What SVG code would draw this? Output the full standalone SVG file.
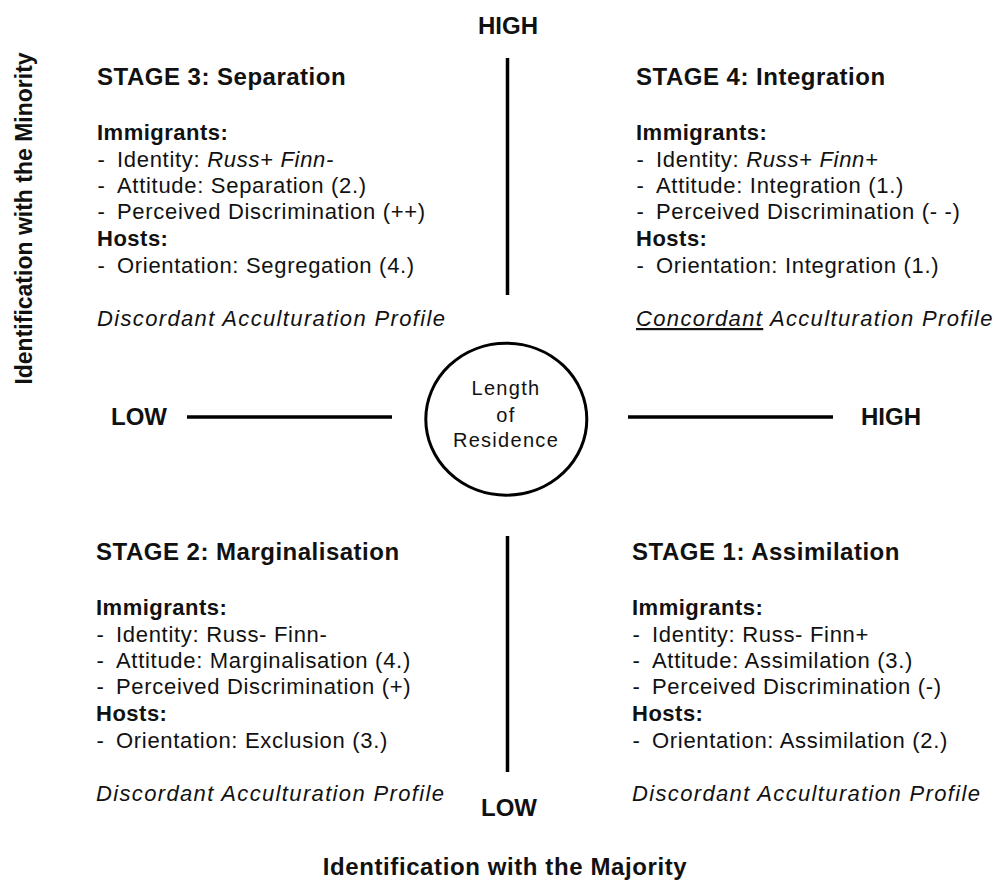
<svg xmlns="http://www.w3.org/2000/svg" width="994" height="882" viewBox="0 0 994 882">
<style>
text{font-family:"Liberation Sans",Arial,sans-serif;fill:#111}
.title{font-size:24px;font-weight:bold;letter-spacing:0.5px}
.head{font-size:22px;font-weight:bold;letter-spacing:0.5px}
.body{font-size:22px;letter-spacing:0.7px}
.it{font-style:italic}
.prof{font-size:22px;font-style:italic;letter-spacing:1.35px}
.axis{font-size:24px;font-weight:bold}
.circ{font-size:20px;letter-spacing:1.3px}
.ln{stroke:#000;stroke-width:3.5;fill:none}
</style>
<rect width="994" height="882" fill="#fff"/>
<g id="connectors">
<line class="ln" x1="187" y1="417" x2="392" y2="417"/>
<line class="ln" x1="628" y1="417" x2="833" y2="417"/>
<line class="ln" x1="507.5" y1="58" x2="507.5" y2="295"/>
<line class="ln" x1="507.5" y1="536" x2="507.5" y2="772"/>
</g>
<g id="axis-labels">
<text class="axis" x="508" y="34" text-anchor="middle">HIGH</text>
<text class="axis" x="111" y="425">LOW</text>
<text class="axis" x="861" y="425">HIGH</text>
<text class="axis" x="509" y="816" text-anchor="middle">LOW</text>
<text class="axis" x="505" y="875" text-anchor="middle" style="letter-spacing:0.6px">Identification with the Majority</text>
<text class="axis" transform="translate(32,218.5) rotate(-90)" text-anchor="middle" style="font-size:23px">Identification with the Minority</text>
</g>
<g id="center">
<ellipse cx="506.3" cy="419.2" rx="80.5" ry="76" fill="#fff" stroke="#000" stroke-width="3"/>
<text class="circ" x="506" y="395" text-anchor="middle">Length</text>
<text class="circ" x="506" y="422" text-anchor="middle">of</text>
<text class="circ" x="506" y="447" text-anchor="middle">Residence</text>
</g>
<g id="stage3">
<text class="title" x="97" y="85">STAGE 3: Separation</text>
<text class="head" x="97" y="140">Immigrants:</text>
<text class="body" x="97.5" y="167">-</text><text class="body" x="117" y="167">Identity: <tspan class="it">Russ+ Finn-</tspan></text>
<text class="body" x="97.5" y="193">-</text><text class="body" x="117" y="193">Attitude: Separation (2.)</text>
<text class="body" x="97.5" y="219">-</text><text class="body" x="117" y="219">Perceived Discrimination (++)</text>
<text class="head" x="97" y="246">Hosts:</text>
<text class="body" x="97.5" y="273">-</text><text class="body" x="117" y="273">Orientation: Segregation (4.)</text>
<text class="prof" x="97" y="326">Discordant Acculturation Profile</text>
</g>
<g id="stage4">
<text class="title" x="636" y="85">STAGE 4: Integration</text>
<text class="head" x="636" y="140">Immigrants:</text>
<text class="body" x="636.5" y="167">-</text><text class="body" x="656" y="167">Identity: <tspan class="it">Russ+ Finn+</tspan></text>
<text class="body" x="636.5" y="193">-</text><text class="body" x="656" y="193">Attitude: Integration (1.)</text>
<text class="body" x="636.5" y="219">-</text><text class="body" x="656" y="219">Perceived Discrimination (- -)</text>
<text class="head" x="636" y="246">Hosts:</text>
<text class="body" x="636.5" y="273">-</text><text class="body" x="656" y="273">Orientation: Integration (1.)</text>
<text class="prof" x="636" y="326"><tspan text-decoration="underline">Concordant</tspan> Acculturation Profile</text>
</g>
<g id="stage2">
<text class="title" x="96" y="560">STAGE 2: Marginalisation</text>
<text class="head" x="96" y="615">Immigrants:</text>
<text class="body" x="96.5" y="642">-</text><text class="body" x="116" y="642">Identity: Russ- Finn-</text>
<text class="body" x="96.5" y="668">-</text><text class="body" x="116" y="668">Attitude: Marginalisation (4.)</text>
<text class="body" x="96.5" y="694">-</text><text class="body" x="116" y="694">Perceived Discrimination (+)</text>
<text class="head" x="96" y="721">Hosts:</text>
<text class="body" x="96.5" y="748">-</text><text class="body" x="116" y="748">Orientation: Exclusion (3.)</text>
<text class="prof" x="96" y="801">Discordant Acculturation Profile</text>
</g>
<g id="stage1">
<text class="title" x="632" y="560">STAGE 1: Assimilation</text>
<text class="head" x="632" y="615">Immigrants:</text>
<text class="body" x="632.5" y="642">-</text><text class="body" x="652" y="642">Identity: Russ- Finn+</text>
<text class="body" x="632.5" y="668">-</text><text class="body" x="652" y="668">Attitude: Assimilation (3.)</text>
<text class="body" x="632.5" y="694">-</text><text class="body" x="652" y="694">Perceived Discrimination (-)</text>
<text class="head" x="632" y="721">Hosts:</text>
<text class="body" x="632.5" y="748">-</text><text class="body" x="652" y="748">Orientation: Assimilation (2.)</text>
<text class="prof" x="632" y="801">Discordant Acculturation Profile</text>
</g>
</svg>
